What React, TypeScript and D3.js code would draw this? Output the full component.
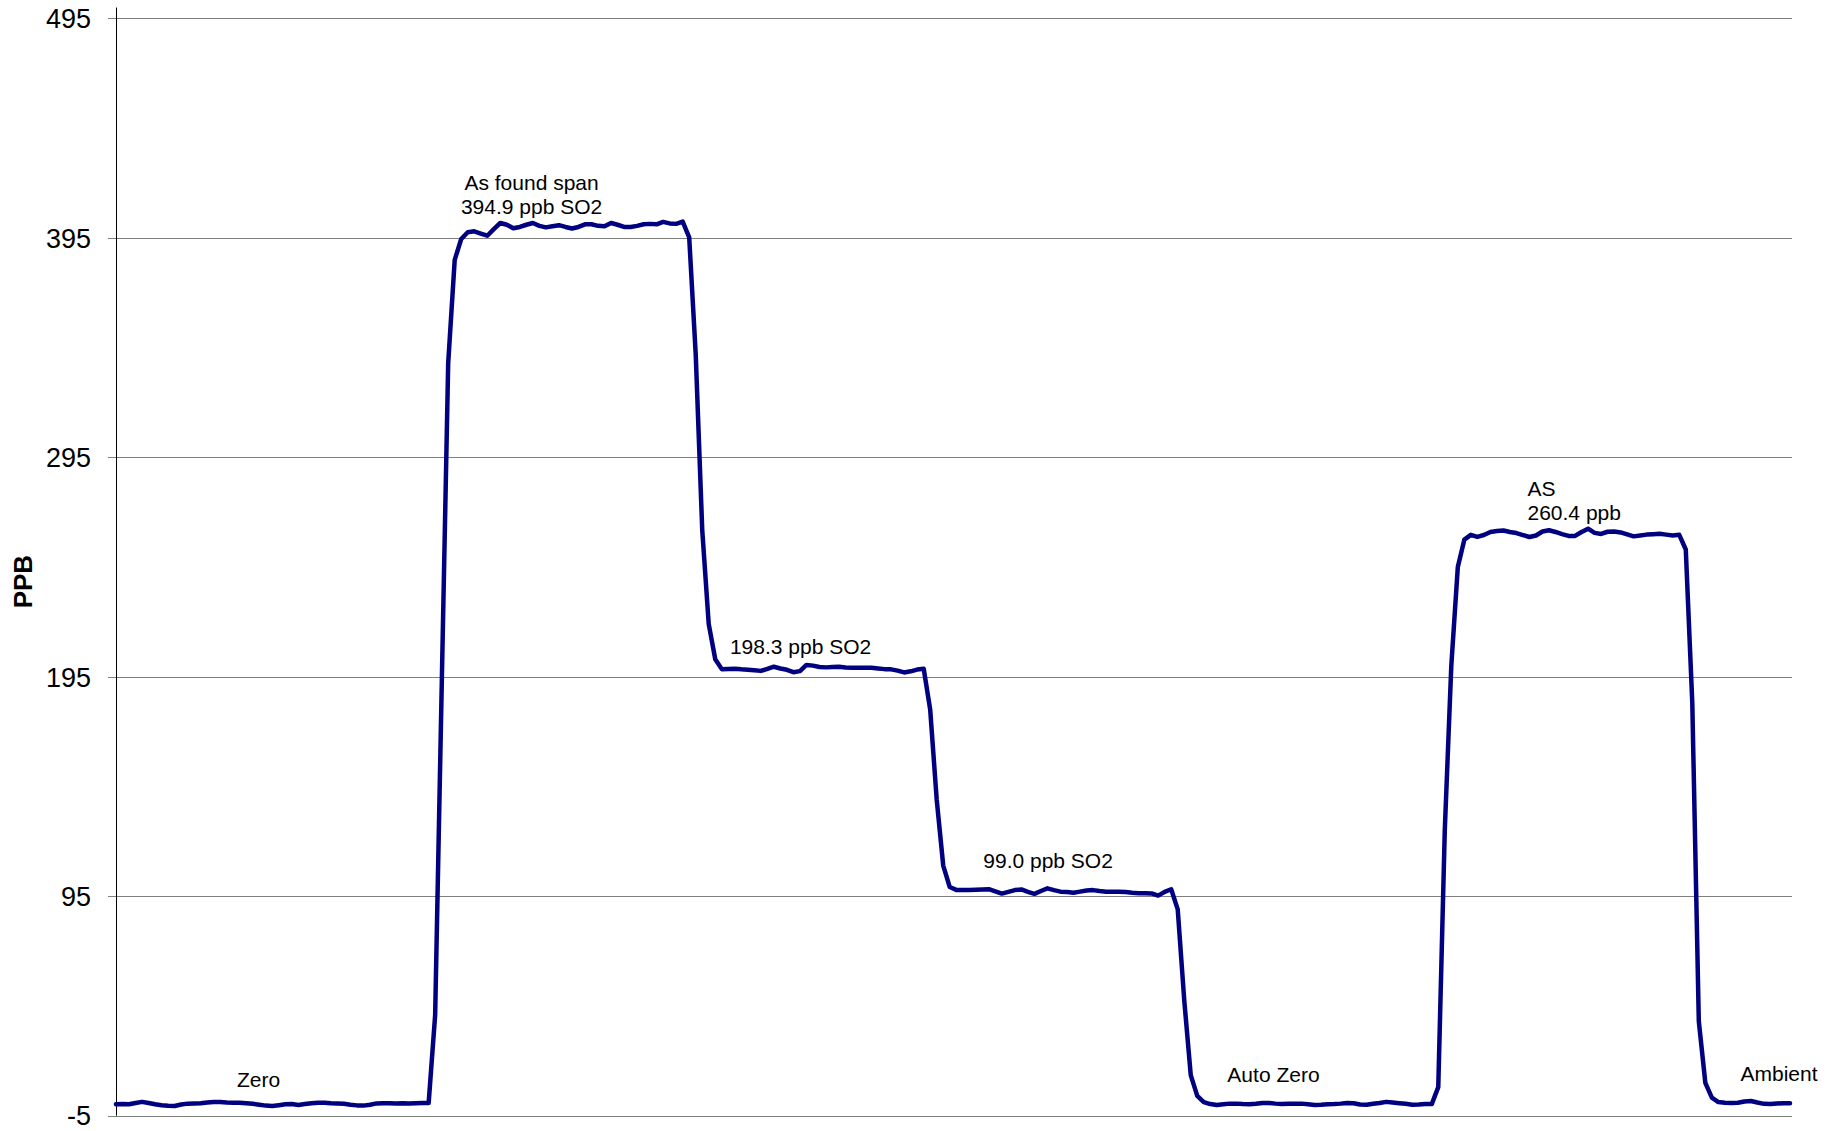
import React from "react";
import * as d3 from "d3";

// ---- data ----
const yTicks = [-5, 95, 195, 295, 395, 495];
const yDomain = [-5, 500];
const axisTitle = "PPB";

// SO2 concentration, one reading per sample (258 samples)
const ppb = [
  // Zero
  0.2, 0.3, 0.2, 0.8, 1.3, 0.8, 0.2, -0.2, -0.5, -0.6,
  0.1, 0.5, 0.6, 0.7, 1.0, 1.2, 1.2, 1.0, 0.9, 0.9,
  0.7, 0.4, 0.0, -0.4, -0.6, -0.2, 0.2, 0.3, -0.1, 0.3,
  0.7, 0.9, 0.9, 0.7, 0.6, 0.4, 0.0, -0.3, -0.4, 0.0,
  0.6, 0.7, 0.7, 0.6, 0.7, 0.6, 0.7, 0.8, 0.8,
  // rise to as-found span
  41, 190, 338, 385, 394.5,
  397.6, 398, 397, 396, 399, 401.8, 401, 399.4, 400, 401,
  401.8, 400.5, 399.8, 400.3, 400.8, 400, 399.3, 400, 401.2, 401.2,
  400.5, 400.3, 401.8, 401, 400, 400, 400.5, 401.2, 401.4, 401.2,
  402.3, 401.6, 401.4, 402.4,
  // drop to 198 ppb
  395.3, 342, 262, 219, 203, 198.5,
  198.6, 198.7, 198.4, 198.2, 198.0, 197.7, 198.6, 199.6, 198.8, 198.2,
  197.1, 197.6, 200.4, 200.1, 199.5, 199.3, 199.5, 199.6, 199.2, 199.1,
  199.1, 199.1, 199.1, 198.8, 198.5, 198.4, 197.8, 197.0, 197.5, 198.3,
  198.7,
  // drop to 99 ppb
  180, 139, 109, 99.2, 97.9,
  97.8, 97.9, 98.0, 98.1, 98.2, 97.2, 96.2, 97.0, 97.8, 98.1,
  97.0, 96.1, 97.4, 98.6, 97.8, 97.1, 96.9, 96.6, 97.1, 97.6,
  97.8, 97.4, 97.1, 97.1, 97.1, 96.9, 96.6, 96.4, 96.4, 96.3,
  95.3, 97.0, 98.2,
  // auto zero
  89, 47.7, 13.5, 4.0, 1.2,
  0.3, -0.1, 0.2, 0.5, 0.5, 0.3, 0.2, 0.4, 0.8, 0.8,
  0.5, 0.3, 0.4, 0.5, 0.5, 0.2, -0.1, 0.0, 0.2, 0.3,
  0.5, 0.8, 0.7, 0.1, 0.0, 0.4, 0.8, 1.3, 1.0, 0.7,
  0.4, 0.0, 0.1, 0.3, 0.3,
  // AS 260.4 ppb
  8, 125, 200, 245, 257.5,
  259.7, 258.8, 259.6, 261.0, 261.4, 261.7, 261.0, 260.5, 259.6, 258.7,
  259.4, 261.2, 261.8, 261.0, 260.0, 259.2, 259.2, 261.0, 262.5, 260.6,
  260.1, 261.1, 261.2, 260.8, 259.9, 259.0, 259.4, 259.8, 260.0, 260.2,
  259.8, 259.4, 259.7,
  // ambient
  253, 183, 38, 10, 3.2, 1.2,
  0.9, 0.8, 0.9, 1.5, 1.7, 1.0, 0.4, 0.3, 0.6, 0.7, 0.7,
];

// annotation texts, anchored at (sample index, ppb value)
const annotationLines = [
  ["Zero"],
  ["As found span", "394.9 ppb SO2"],
  ["198.3 ppb SO2"],
  ["99.0 ppb SO2"],
  ["Auto Zero"],
  ["AS", "260.4 ppb"],
  ["Ambient"],
];
const annotationIndex = [21.9, 63.8, 105.1, 143.1, 177.7, 216.7, 249.4];
const annotationValue = [7.9, 416.8, 205.4, 107.7, 10.5, 277.4, 11.0];
const annotationAnchor = ["middle", "middle", "middle", "middle", "middle", "start", "start"];

// ---- layout ----
const W = 1838;
const H = 1131;
const left = 116;
const right = 1792;
const lineRight = 1790;
const top = 7.5;
const bottom = 1115.7;
const FONT = "'Liberation Sans', Arial, Helvetica, sans-serif";

export default function App() {
  const x = d3.scaleLinear().domain([0, ppb.length - 1]).range([left, lineRight]);
  const y = d3.scaleLinear().domain(yDomain).range([bottom, top]);
  const line = d3
    .line<number>()
    .x((_, i) => x(i))
    .y((d) => y(d));

  return (
    <>
      <style>{`body{margin:0;}`}</style>
      <svg width={W} height={H} style={{ display: "block", background: "#fff" }}>
        {/* gridlines + ticks */}
        {yTicks.map((t) => (
          <line
            key={"g" + t}
            x1={left - 8}
            x2={right}
            y1={Math.round(y(t)) + 0.5}
            y2={Math.round(y(t)) + 0.5}
            stroke="#7f7f7f"
            strokeWidth={1}
          />
        ))}
        {/* y axis */}
        <line x1={left + 0.5} x2={left + 0.5} y1={top} y2={bottom} stroke="#000" strokeWidth={1} />
        {/* tick labels */}
        {yTicks.map((t) => (
          <text
            key={"t" + t}
            x={91}
            y={y(t)}
            dy="0.36em"
            textAnchor="end"
            fontFamily={FONT}
            fontSize={27}
            fill="#000"
          >
            {t}
          </text>
        ))}
        {/* axis title */}
        <text
          transform={`translate(32, ${(top + bottom) / 2 + 20}) rotate(-90)`}
          textAnchor="middle"
          fontFamily={FONT}
          fontSize={26}
          fontWeight="bold"
          fill="#000"
        >
          {axisTitle}
        </text>
        {/* data line */}
        <path
          d={line(ppb) || ""}
          fill="none"
          stroke="#000080"
          strokeWidth={4.5}
          strokeLinejoin="round"
          strokeLinecap="round"
        />
        {/* annotations */}
        {annotationLines.map((lines, k) => (
          <text
            key={"a" + k}
            x={x(annotationIndex[k])}
            y={y(annotationValue[k])}
            textAnchor={annotationAnchor[k]}
            fontFamily={FONT}
            fontSize={21}
            fill="#000"
          >
            {lines.map((s, j) => (
              <tspan key={j} x={x(annotationIndex[k])} dy={j === 0 ? 0 : 24}>
                {s}
              </tspan>
            ))}
          </text>
        ))}
      </svg>
    </>
  );
}
